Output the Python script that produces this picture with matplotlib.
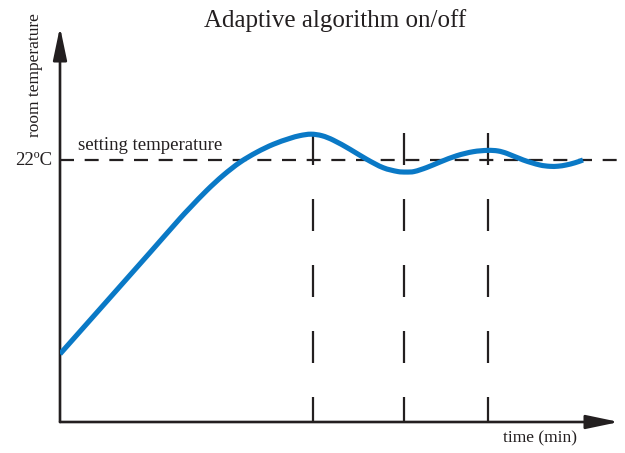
#!/usr/bin/env python3

import numpy as np
import matplotlib as mpl
mpl.use("Agg")
import matplotlib.pyplot as plt
from matplotlib.path import Path
from matplotlib.patches import PathPatch

# room temperature curve (time in min, temperature in degC)
TIME = [0.0, 9.0, 12.0, 13.0, 14.67, 16.33, 18.0, 19.67, 21.33, 23.0,
        24.0, 25.1, 26.2, 27.3, 29.0, 30.67, 32.33, 33.8, 34.6, 35.4, 36.67,
        38.0, 39.67, 41.33, 42.8, 43.8, 44.67, 46.33, 48.0, 49.0, 49.8, 50.6,
        51.5, 52.3]
TEMP = [5.71, 14.23, 17.09, 17.99, 19.44, 20.72, 21.81, 22.65, 23.32, 23.82,
        24.05, 24.17, 24.04, 23.68, 22.90, 22.06, 21.35, 21.03, 20.99,
        21.03, 21.37, 21.83, 22.36, 22.70, 22.81, 22.76, 22.56, 22.00, 21.58,
        21.47, 21.48, 21.58, 21.77, 22.00]

SETPOINT = 22.0
SWITCH_TIMES = [25.3, 34.4, 42.8]   # algorithm on/off moments
SWITCH_TOP = 24.27

TITLE = "Adaptive algorithm on/off"
SET_LABEL = "setting temperature"
SET_TICK = "22ºC"
XLABEL = "time (min)"
YLABEL = "room temperature"

BLUE = "#0a79c6"
INK = "#231f20"

W, H = 625, 453


def smooth_path(x, y):
    """Cubic Bezier path through every point (Catmull-Rom tangents)."""
    pts = np.column_stack([x, y]).astype(float)
    ext = np.vstack([pts[0], pts, pts[-1]])
    verts = [pts[0]]
    codes = [Path.MOVETO]
    for i in range(len(pts) - 1):
        p0, p1, p2, p3 = ext[i], ext[i + 1], ext[i + 2], ext[i + 3]
        # scale tangents by segment length so uneven spacing stays smooth
        h = p2[0] - p1[0]
        m1 = (p2 - p0) / (p2[0] - p0[0]) * h
        m2 = (p3 - p1) / (p3[0] - p1[0]) * h
        verts += [p1 + m1 / 3, p2 - m2 / 3, p2]
        codes += [Path.CURVE4] * 3
    return Path(verts, codes)


plt.rcParams["font.family"] = ["Liberation Serif", "DejaVu Serif"]

fig = plt.figure(figsize=(W / 100, H / 100), dpi=100)
fig.patch.set_facecolor("white")
ax = fig.add_axes([60 / W, (H - 422) / H, (619 - 60) / W, (422 - 27) / H])
ax.set_xlim(0, 55.9)
ax.set_ylim(0, 33.17)
ax.axis("off")

# axes with arrow heads
arrow = dict(arrowstyle="-|>,head_length=2.0,head_width=0.42", mutation_scale=10,
             color=INK, lw=1.9, shrinkA=0, shrinkB=0)
ax.annotate("", xy=(1, 0), xytext=(0, 0), xycoords="axes fraction",
            textcoords="axes fraction", arrowprops=arrow)
ax.annotate("", xy=(0, 1), xytext=(0, 0), xycoords="axes fraction",
            textcoords="axes fraction", arrowprops=arrow)

# setpoint line
ax.plot([0, 56.6], [SETPOINT, SETPOINT], color=INK, lw=1.6,
        dashes=(6.3, 4.8), clip_on=False, zorder=2)

# switching moments
for t in SWITCH_TIMES:
    ax.plot([t, t], [SWITCH_TOP, 0], color=INK, lw=1.6,
            dashes=(14.4, 15.3), zorder=2)

ax.add_patch(PathPatch(smooth_path(TIME, TEMP), facecolor="none", edgecolor=BLUE,
                       lw=3.7, capstyle="butt", joinstyle="round", zorder=3))

ax.text(1.8, 22.84, SET_LABEL, ha="left", va="baseline", fontsize=13.5, color=INK)
ax.text(-0.8, SETPOINT, SET_TICK, ha="right", va="center", fontsize=13.5,
        color=INK, clip_on=False)

fig.text(335 / W, 1 - 21 / H, TITLE, ha="center", va="center", fontsize=18, color=INK)
fig.text(540 / W, 1 - 438 / H, XLABEL, ha="center", va="center", fontsize=12.5, color=INK)
fig.text(35 / W, 1 - 75 / H, YLABEL, ha="center", va="center", rotation=90,
         fontsize=12.5, color=INK)

fig.savefig("out.png", dpi=100, facecolor="white")
